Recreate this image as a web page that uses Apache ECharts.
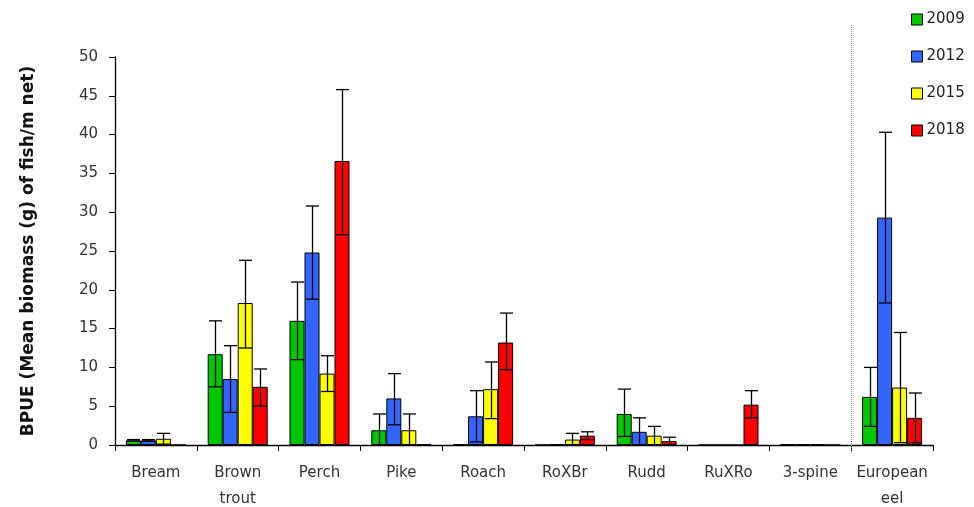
<!DOCTYPE html>
<html><head><meta charset="utf-8">
<script src="https://cdn.jsdelivr.net/npm/echarts@6/dist/echarts.min.js"></script>
<style>html,body{margin:0;padding:0;background:#fff}#c{width:974px;height:507px}</style>
</head><body><div id="c"></div>
<script>
const categories = ['Bream', 'Brown\ntrout', 'Perch', 'Pike', 'Roach', 'RoXBr', 'Rudd', 'RuXRo', '3-spine', 'European\neel'];
const years = ['2009', '2012', '2015', '2018'];
const colors = ['#00c800', '#3366ff', '#ffff00', '#ff0000'];
const yTicks = [0, 5, 10, 15, 20, 25, 30, 35, 40, 45, 50];
const v2009 = [0.6, 11.7, 16.0, 1.9, 0.1, 0, 4.0, 0, 0.1, 6.2];
const v2012 = [0.6, 8.5, 24.8, 6.0, 3.7, 0.1, 1.7, 0, 0.1, 29.3];
const v2015 = [0.8, 18.3, 9.2, 1.9, 7.2, 0.7, 1.2, 0, 0.1, 7.4];
const v2018 = [0, 7.5, 36.6, 0.1, 13.2, 1.2, 0.5, 5.2, 0, 3.5];
const hi2009 = [0.7, 16.0, 21.0, 4.0, null, null, 7.2, null, null, 10.0];
const lo2009 = [0.5, 7.5, 11.0, 0, null, null, 1.1, null, null, 2.4];
const hi2012 = [0.7, 12.8, 30.8, 9.2, 7.0, null, 3.5, null, null, 40.3];
const lo2012 = [0.5, 4.2, 18.8, 2.6, 0.4, null, 0, null, null, 18.3];
const hi2015 = [1.5, 23.8, 11.5, 4.0, 10.7, 1.5, 2.4, null, null, 14.5];
const lo2015 = [0.1, 12.5, 6.9, 0, 3.4, 0, 0, null, null, 0.3];
const hi2018 = [null, 9.8, 45.8, null, 17.0, 1.7, 1.0, 7.0, null, 6.7];
const lo2018 = [null, 5.0, 27.1, null, 9.7, 0.7, 0, 3.5, null, 0.3];

const values = [v2009, v2012, v2015, v2018];
const his = [hi2009, hi2012, hi2015, hi2018];
const los = [lo2009, lo2012, lo2015, lo2018];
const BW = 15;

const series = [];
years.forEach((y, i) => {
  series.push({
    name: y, type: 'bar', data: values[i], barWidth: BW, barGap: '0%',
    itemStyle: { color: colors[i], borderColor: '#000', borderWidth: 1 },
    emphasis: { disabled: true }, z: 2
  });
});
years.forEach((y, i) => {
  const data = [];
  his[i].forEach((h, k) => { if (h !== null) data.push([k, los[i][k], h]); });
  series.push({
    type: 'custom', z: 5, silent: true,
    renderItem: (params, api) => {
      const k = api.value(0);
      const pHi = api.coord([k, api.value(2)]);
      const pLo = api.coord([k, api.value(1)]);
      const x = Math.round(pHi[0] + (i - 1.5) * BW) + 0.5;
      const cw = 6.5;
      const st = { stroke: '#000', lineWidth: 1.3 };
      return { type: 'group', children: [
        { type: 'line', shape: { x1: x, y1: pHi[1], x2: x, y2: pLo[1] }, style: st },
        { type: 'line', shape: { x1: x - cw, y1: pHi[1], x2: x + cw, y2: pHi[1] }, style: st },
        { type: 'line', shape: { x1: x - cw, y1: pLo[1], x2: x + cw, y2: pLo[1] }, style: st }
      ]};
    },
    data: data
  });
});

const chart = echarts.init(document.getElementById('c'));
chart.setOption({
  animation: false,
  textStyle: { fontFamily: 'DejaVu Sans' },
  grid: { left: 115, right: 41, top: 57, bottom: 62, containLabel: false, outerBoundsMode: 'none' },
  legend: {
    data: years, orient: 'vertical', left: 906, top: 7, itemGap: 22,
    itemWidth: 11, itemHeight: 11, icon: 'rect',
    itemStyle: { borderColor: '#000', borderWidth: 1 },
    textStyle: { fontFamily: 'DejaVu Sans', fontSize: 15, color: '#222', padding: [0, 0, 0, -1] }
  },
  xAxis: {
    type: 'category', data: categories,
    axisLine: { lineStyle: { color: '#000', width: 1.3 } },
    axisTick: { show: true, length: 6, lineStyle: { color: '#000' } },
    axisLabel: { color: '#333', fontSize: 15, lineHeight: 26, margin: 15, interval: 0,
      fontFamily: 'DejaVu Sans' }
  },
  yAxis: {
    type: 'value', min: yTicks[0], max: yTicks[yTicks.length - 1], interval: 5,
    name: 'BPUE (Mean biomass (g) of fish/m net)', nameLocation: 'middle', nameGap: 78,
    nameTextStyle: { fontWeight: 'bold', fontSize: 17, color: '#111', fontFamily: 'DejaVu Sans' },
    axisLine: { show: true, lineStyle: { color: '#000', width: 1.3 } },
    axisTick: { show: true, length: 6, lineStyle: { color: '#000' } },
    splitLine: { show: false },
    axisLabel: { color: '#333', fontSize: 15, margin: 17, fontFamily: 'DejaVu Sans' }
  },
  graphic: [{
    type: 'line', z: 10, silent: true,
    shape: { x1: 851.5, y1: 25, x2: 851.5, y2: 453 },
    style: { stroke: '#888', lineWidth: 1, lineDash: [1, 1] }
  }],
  series: series
});
</script></body></html>
